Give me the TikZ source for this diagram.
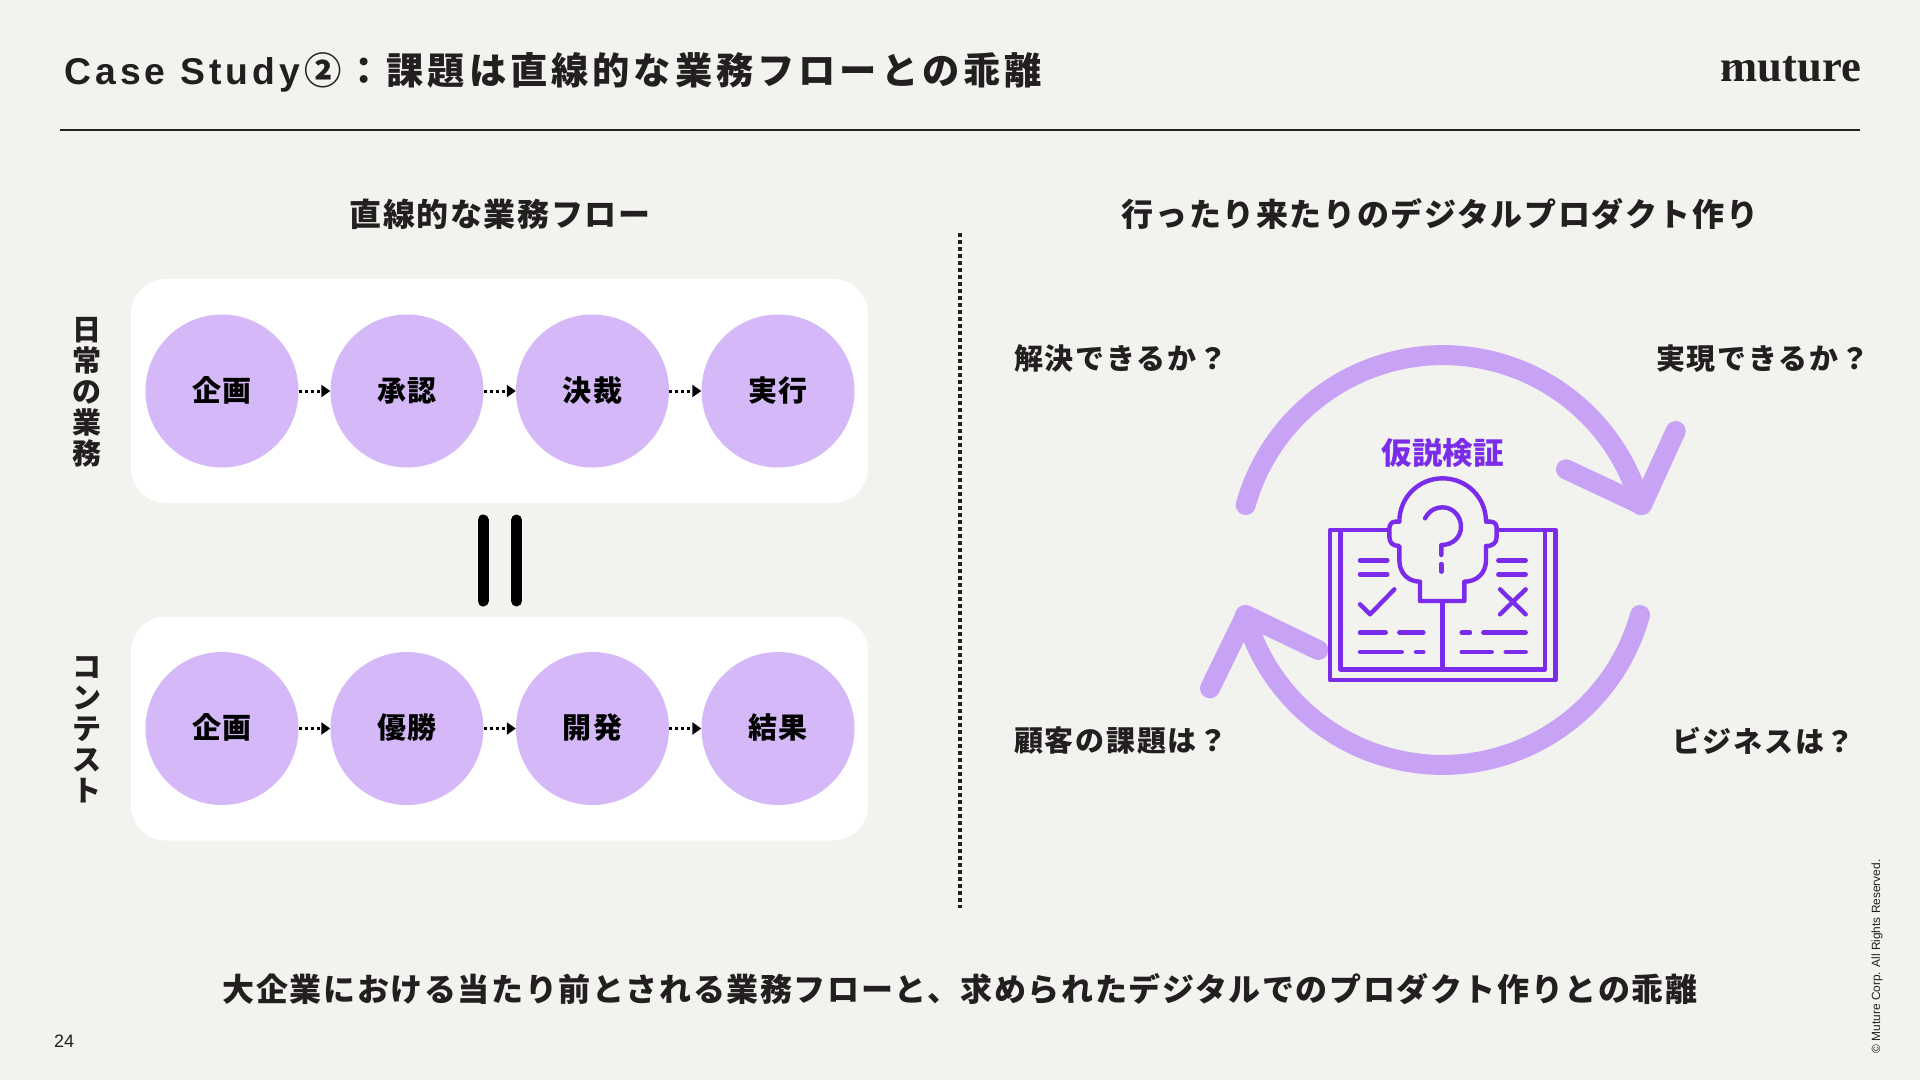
\documentclass[tikz,border=0pt]{standalone}
\usepackage{fontspec}
\usetikzlibrary{arrows.meta}
\setmainfont{Liberation Sans}
\newfontfamily\jp{Noto Sans CJK JP}
\newfontfamily\jpw[LetterSpace=5]{Noto Sans CJK JP}
\newfontfamily\jpq[LetterSpace=6]{Noto Sans CJK JP}
\newfontfamily\jpt[LetterSpace=10.5]{Noto Sans CJK JP}
\newfontfamily\lat[LetterSpace=11]{Liberation Sans}
\definecolor{bgc}{HTML}{F2F2EF}
\definecolor{ink}{HTML}{231F20}
\definecolor{circ}{HTML}{D4B8F8}
\definecolor{cyc}{HTML}{C8A2F5}
\definecolor{vio}{HTML}{7B2CEB}
\tikzset{
 panel/.style={fill=white,rounded corners=35pt,minimum width=737pt,minimum height=224pt,inner sep=0pt},
 stepc/.style={circle,fill=circ,minimum size=153pt,inner sep=0pt,text=black,text height=24pt,text depth=4pt,font=\fontsize{29}{34}\selectfont\jpw\bfseries},
 flowarrow/.style={line width=3pt,dash pattern=on 3pt off 3pt,-{Triangle[length=9pt,width=12pt]},black},
 head/.style={text=ink,inner sep=0pt,font=\fontsize{32}{38}\selectfont\jpw\bfseries},
 qlabel/.style={text=ink,inner sep=0pt,anchor=west,font=\fontsize{29}{34}\selectfont\jpq\bfseries},
 vlabel/.style={text=ink,inner sep=0pt,align=center,font=\fontsize{29}{31}\selectfont\jp\bfseries},
 cyclearc/.style={cyc,line width=20pt,line cap=round,line join=round},
 icon/.style={vio,line width=4.4pt,line cap=round,line join=round},
 eqbar/.style={black,line width=11pt,line cap=round}
}
\begin{document}
\begin{tikzpicture}[x=1pt,y=-1pt]
\fill[bgc] (0,0) rectangle (1920,1080);
\useasboundingbox (0,0) rectangle (1920,1080);
% header
\node[anchor=west,inner sep=0pt,text=ink] (title) at (64,72) {\fontsize{37.3}{42}\selectfont\lat\bfseries Case Study\hspace{4pt}\jpt\bfseries ②：課題は直線的な業務フローとの乖離};
\node[anchor=base,inner sep=0pt,text=ink] (logo) at (1791,81) {\fontsize{44.6}{50}\selectfont\fontspec{Liberation Serif}\bfseries muture};
\coordinate (swA) at (1722,74); \coordinate (swB) at (1736,64);
\draw[ink,line width=1pt] (swA) -- (swB);
\coordinate (ruleL) at (60,130); \coordinate (ruleR) at (1860,130);
\draw[ink,line width=2.4pt] (ruleL) -- (ruleR);
% headings
\node[head] (hl) at (500,214) {直線的な業務フロー};
\node[head] (hr) at (1440,214) {行ったり来たりのデジタルプロダクト作り};
% panels
\node[panel] (p1) at (499.5,391) {};
\node[panel] (p2) at (499.5,728.5) {};
\node[vlabel] (v1) at (87,392) {日\\常\\の\\業\\務};
\node[vlabel] (v2) at (87,729.5) {コ\\ン\\テ\\ス\\ト};
% flows
\node[stepc] (a1) at (222,391) {企画};
\node[stepc] (a2) at (407,391) {承認};
\node[stepc] (a3) at (592.5,391) {決裁};
\node[stepc] (a4) at (778,391) {実行};
\node[stepc] (b1) at (222,728.5) {企画};
\node[stepc] (b2) at (407,728.5) {優勝};
\node[stepc] (b3) at (592.5,728.5) {開発};
\node[stepc] (b4) at (778,728.5) {結果};
\draw[flowarrow] (a1) -- (a2); \draw[flowarrow] (a2) -- (a3); \draw[flowarrow] (a3) -- (a4);
\draw[flowarrow] (b1) -- (b2); \draw[flowarrow] (b2) -- (b3); \draw[flowarrow] (b3) -- (b4);
% equals
\coordinate (e1a) at (483,520); \coordinate (e1b) at (483,601);
\coordinate (e2a) at (516.5,520); \coordinate (e2b) at (516.5,601);
\draw[eqbar] (e1a) -- (e1b); \draw[eqbar] (e2a) -- (e2b);
% divider
\coordinate (dvT) at (960,233); \coordinate (dvB) at (960,908);
\draw[ink,line width=3.6pt,dash pattern=on 3.6pt off 3.4pt] (dvT) -- (dvB);
% question labels
\node[qlabel] (q1) at (1014,359) {解決できるか？};
\node[qlabel] (q2) at (1656,359) {実現できるか？};
\node[qlabel] (q3) at (1014,741) {顧客の課題は？};
\node[qlabel] (q4) at (1672,741) {ビジネスは？};
% cycle
\coordinate (c1s) at (1245.7,505);
\coordinate (c2s) at (1640,615);
\coordinate (t1a) at (1675.7,431); \coordinate (t1b) at (1642,505); \coordinate (t1c) at (1566,469.3);
\coordinate (t2a) at (1210,688.3); \coordinate (t2b) at (1245.7,615); \coordinate (t2c) at (1318.3,650);
\draw[cyclearc] (c1s) arc[start angle=164.4,end angle=15.6,radius=205pt];
\draw[cyclearc] (c2s) arc[start angle=-15.6,end angle=-164.4,radius=205pt];
\draw[cyclearc] (t1a) -- (t1b) -- (t1c);
\draw[cyclearc] (t2a) -- (t2b) -- (t2c);
\node[inner sep=0pt,text=vio,font=\fontsize{30.5}{34}\selectfont\jp\bfseries] (hyp) at (1442.5,453) {仮説検証};
% icon
\begin{scope}[shift={(1280pt,-420pt)},x=0.33333pt,y=-0.33333pt]
\draw[icon] (150,330) rectangle (827,780);
\draw[icon] (182,330) -- (182,748) -- (795,748) -- (795,330);
\draw[icon] (488,540) -- (488,748);
\draw[icon,fill=bgc] (358,305) .. controls (358,232) and (416,175) .. (488,175) .. controls (560,175) and (618,232) .. (618,305)
 -- (632,305) .. controls (645,305) and (650,315) .. (650,325) -- (650,350) .. controls (650,368) and (640,378) .. (618,378)
 -- (618,420) .. controls (618,460) and (590,485) .. (553,485) -- (553,543) -- (420,543) -- (420,485)
 .. controls (385,485) and (358,460) .. (358,420) -- (358,378) .. controls (338,378) and (328,368) .. (328,350)
 -- (328,325) .. controls (328,315) and (335,305) .. (345,305) -- cycle;
\draw[icon] (435,295) .. controls (450,268) and (470,262) .. (488,262) .. controls (520,262) and (543,290) .. (543,320) .. controls (543,350) and (520,375) .. (484,375) -- (484,405);
\draw[icon] (484,432) -- (484,455);
\draw[icon] (240,421) -- (322,421) (240,463) -- (322,463);
\draw[icon] (240,553) -- (270,583) -- (343,508);
\draw[icon] (240,638) -- (317,638) (358,638) -- (430,638);
\draw[icon] (240,696) -- (365,696) (408,696) -- (430,696);
\draw[icon] (655,421) -- (737,421) (655,463) -- (737,463);
\draw[icon] (660,508) -- (737,583) (737,508) -- (660,583);
\draw[icon] (545,638) -- (570,638) (610,638) -- (737,638);
\draw[icon] (545,696) -- (635,696) (677,696) -- (737,696);
\end{scope}
% footer
\node[head] (foot) at (960,989) {大企業における当たり前とされる業務フローと、求められたデジタルでのプロダクト作りとの乖離};
\node[anchor=west,inner sep=0pt,text=ink,font=\fontsize{18}{20}\selectfont] (pg) at (54,1041) {24};
\node[rotate=90,anchor=center,inner sep=0pt,text=ink,font=\fontsize{11.9}{14}\selectfont] (copy) at (1877,956.5) {© Muture Corp. All Rights Reserved.};
\end{tikzpicture}
\end{document}
